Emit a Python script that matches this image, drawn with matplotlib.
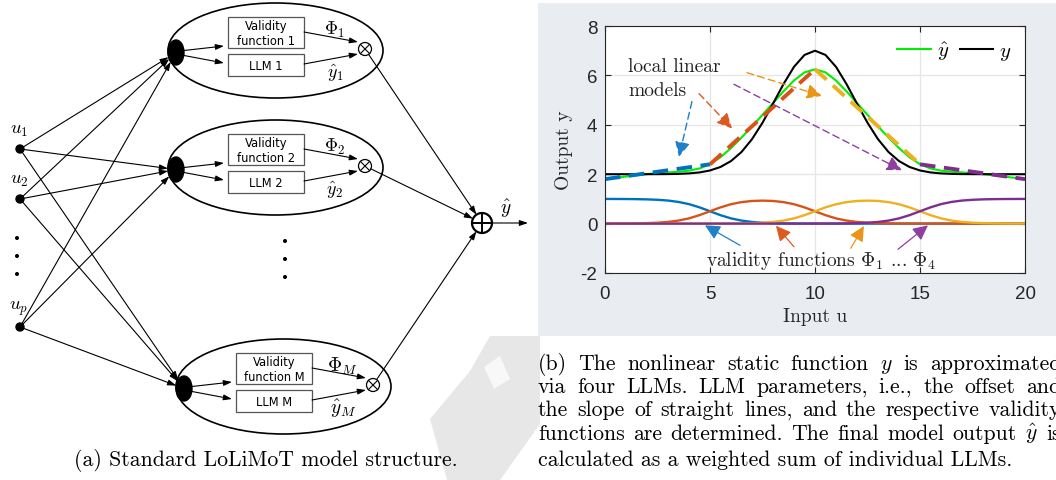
import numpy as np
import matplotlib
matplotlib.use('Agg')
import matplotlib.pyplot as plt
from matplotlib import patches

plt.rcParams['mathtext.fontset'] = 'cm'
plt.rcParams['axes.unicode_minus'] = False
plt.rcParams['font.family'] = 'Liberation Sans'

# ---- values (u in steps of 0.5) ----
u = np.arange(0, 20.5, 0.5)
y_true = [2.000, 2.000, 2.000, 2.000, 2.001, 2.002, 2.005, 2.013, 2.032, 2.072,
          2.151, 2.293, 2.532, 2.899, 3.418, 4.083, 4.856, 5.649, 6.347, 6.828,
          7.000, 6.828, 6.347, 5.649, 4.856, 4.083, 3.418, 2.899, 2.532, 2.293,
          2.151, 2.072, 2.032, 2.013, 2.005, 2.002, 2.001, 2.000, 2.000, 2.000, 2.000]
y_hat = [1.796, 1.852, 1.906, 1.957, 2.003, 2.041, 2.072, 2.100, 2.143, 2.232,
         2.405, 2.687, 3.058, 3.484, 3.936, 4.403, 4.879, 5.356, 5.794, 6.122,
         6.245, 6.122, 5.794, 5.356, 4.879, 4.403, 3.936, 3.484, 3.058, 2.687,
         2.405, 2.232, 2.143, 2.100, 2.072, 2.041, 2.003, 1.957, 1.906, 1.852, 1.796]
phi1 = [0.999, 0.997, 0.995, 0.990, 0.981, 0.964, 0.933, 0.877, 0.788, 0.658,
        0.500, 0.341, 0.211, 0.122, 0.066, 0.035, 0.018, 0.009, 0.004, 0.002,
        0.001, 0, 0, 0, 0, 0, 0, 0, 0, 0,
        0, 0, 0, 0, 0, 0, 0, 0, 0, 0, 0]
phi2 = [0.001, 0.003, 0.005, 0.010, 0.019, 0.036, 0.068, 0.123, 0.212, 0.342,
        0.500, 0.657, 0.785, 0.870, 0.916, 0.930, 0.916, 0.870, 0.785, 0.657,
        0.499, 0.341, 0.211, 0.122, 0.066, 0.035, 0.018, 0.009, 0.004, 0.002,
        0.001, 0, 0, 0, 0, 0, 0, 0, 0, 0, 0]
phi3 = [0, 0, 0, 0, 0, 0, 0, 0, 0, 0,
        0.001, 0.002, 0.004, 0.009, 0.018, 0.035, 0.066, 0.122, 0.211, 0.341,
        0.499, 0.657, 0.785, 0.870, 0.916, 0.930, 0.916, 0.870, 0.785, 0.657,
        0.500, 0.342, 0.212, 0.123, 0.068, 0.036, 0.019, 0.010, 0.005, 0.003, 0.001]
phi4 = [0, 0, 0, 0, 0, 0, 0, 0, 0, 0,
        0, 0, 0, 0, 0, 0, 0, 0, 0, 0,
        0.001, 0.002, 0.004, 0.009, 0.018, 0.035, 0.066, 0.122, 0.211, 0.341,
        0.500, 0.658, 0.788, 0.877, 0.933, 0.964, 0.981, 0.990, 0.995, 0.997, 0.999]
llm_u = [[0, 5], [5, 10], [10, 15], [15, 20]]
llm_y = [[1.8, 2.4], [2.4, 6.25], [6.25, 2.4], [2.4, 1.8]]
xticks = [0, 5, 10, 15, 20]
yticks = [-2, 0, 2, 4, 6, 8]

module_names = ['1', '2', 'M']
caption_a = '(a) Standard LoLiMoT model structure.'
caption_b = ['(b) The nonlinear static function $y$ is approximated',
             'via four LLMs.  LLM parameters, i.e., the offset and',
             'the slope of straight lines, and the respective validity',
             'functions are determined. The final model output $\\hat{y}$ is',
             'calculated as a weighted sum of individual LLMs.']

cols = ['#0072BD', '#D95319', '#EDB120', '#7E2F8E']
arr_cols = ['#1f7fc8', '#dd5a1e', '#ea9418', '#8e3fa0']

fig = plt.figure(figsize=(10.56, 4.81), dpi=100)
ax0 = fig.add_axes([0, 0, 1, 1])
ax0.set_xlim(0, 1056)
ax0.set_ylim(481, 0)
ax0.axis('off')

# faint watermark + grey panel behind the plot
ax0.add_patch(patches.Polygon([(490, 337), (540, 337), (540, 425), (500, 481), (447, 481),
                               (430, 420), (470, 372)], color='#e7e7e7', lw=0, zorder=1))
ax0.add_patch(patches.Polygon([(484, 368), (500, 357), (510, 380), (494, 390)],
                              color='#f8f8f8', lw=0, zorder=1))
ax0.add_patch(patches.Rectangle((538, 4), 520, 333, color='#e9ecf1', lw=0, zorder=2))


def arr(p, q, lw=0.8, ms=10):
    ax0.annotate('', xy=q, xytext=p, zorder=4,
                 arrowprops=dict(arrowstyle='-|>,head_length=0.5,head_width=0.17', lw=lw,
                                 color='k', shrinkA=0, shrinkB=0, mutation_scale=ms))


def on_ell(c, a, b, p):
    ang = np.arctan2((p[1] - c[1]) / b, (p[0] - c[0]) / a)
    return (c[0] + a * np.cos(ang), c[1] + b * np.sin(ang))


inputs = [(20, 150), (20, 200), (20, 328)]
in_labels = ['$u_1$', '$u_2$', '$u_p$']
anchors = [(168, 4), (168, 121), (176, 340)]
s_c = (482, 224)
s_r = 10

for (x0, y0), nm in zip(anchors, module_names):
    ax0.add_patch(patches.Ellipse((x0 + 107.5, y0 + 47.5), 215, 95, fill=False, lw=1.2, zorder=3))
    bc = (x0 + 8, y0 + 49.5)
    ax0.add_patch(patches.Ellipse(bc, 16, 25, color='k', zorder=3))
    ax0.add_patch(patches.Rectangle((x0 + 60, y0 + 14), 76, 31, fill=False, ec='#555555', lw=0.9, zorder=3))
    ax0.add_patch(patches.Rectangle((x0 + 60, y0 + 51), 76, 22, fill=False, ec='#555555', lw=0.9, zorder=3))
    ax0.text(x0 + 98, y0 + 30, 'Validity\nfunction ' + nm, ha='center', va='center', fontsize=8.3,
             family='DejaVu Sans', linespacing=1.15, zorder=4)
    ax0.text(x0 + 98, y0 + 62.5, 'LLM ' + nm, ha='center', va='center', fontsize=8.3,
             family='DejaVu Sans', zorder=4)
    arr((bc[0] + 8, bc[1] - 2), (x0 + 56, y0 + 43))
    arr((bc[0] + 8, bc[1] + 3), (x0 + 56, y0 + 60))
    mc = (x0 + 197, y0 + 46)
    r = 6.5
    ax0.add_patch(patches.Circle(mc, r, fill=False, lw=0.9, zorder=3))
    d = r * 0.7071
    ax0.plot([mc[0] - d, mc[0] + d], [mc[1] - d, mc[1] + d], 'k', lw=0.8, zorder=3)
    ax0.plot([mc[0] - d, mc[0] + d], [mc[1] + d, mc[1] - d], 'k', lw=0.8, zorder=3)
    arr((x0 + 136, y0 + 29), (mc[0] - 7, mc[1] - 7))
    arr((x0 + 136, y0 + 61), (mc[0] - 7, mc[1] + 5))
    fsz = 14 if nm == 'M' else 13
    ax0.text(x0 + 167, y0 + 26, '$\\Phi_{%s}$' % nm, ha='center', va='center', fontsize=fsz, zorder=4)
    ax0.text(x0 + 167, y0 + 69, '$\\hat{y}_{%s}$' % nm, ha='center', va='center', fontsize=fsz, zorder=4)
    for p in inputs:
        arr(p, on_ell(bc, 8, 12.5, p))
    arr(on_ell(mc, r, r, s_c), on_ell(s_c, s_r, s_r, mc))

for p, lab in zip(inputs, in_labels):
    ax0.add_patch(patches.Circle(p, 4, color='k', zorder=4))
    ax0.text(p[0] - 1, p[1] - 19, lab, ha='center', va='center', fontsize=13.5, zorder=4)
for yy in [239, 257, 275]:
    ax0.add_patch(patches.Circle((17, yy), 1.3, color='k', zorder=4))
for yy in [242, 260, 278]:
    ax0.add_patch(patches.Circle((285, yy), 1.3, color='k', zorder=4))

ax0.add_patch(patches.Circle(s_c, s_r, fill=False, lw=1.6, zorder=3))
ax0.plot([s_c[0] - s_r, s_c[0] + s_r], [s_c[1], s_c[1]], 'k', lw=1.4, zorder=3)
ax0.plot([s_c[0], s_c[0]], [s_c[1] - s_r, s_c[1] + s_r], 'k', lw=1.4, zorder=3)
arr((s_c[0] + s_r, s_c[1]), (528, s_c[1]))
ax0.text(506, 209, '$\\hat{y}$', ha='center', va='center', fontsize=14, zorder=4)

# ---- right chart ----
ax = fig.add_axes([605 / 1056, 207 / 481, 420 / 1056, 247 / 481])
ax.set_xlim(0, 20)
ax.set_ylim(-2, 8)
ax.set_xticks(xticks)
ax.set_yticks(yticks)
ax.grid(True, color='#e6e6e6', lw=0.9)
ax.set_axisbelow(True)
for ph, c in zip([phi1, phi2, phi3, phi4], cols):
    ax.plot(u, ph, color=c, lw=1.7)
l_hat, = ax.plot(u, y_hat, color='#00ee00', lw=1.5)
l_true, = ax.plot(u, y_true, color='k', lw=1.5)
for xs, ys, c in zip(llm_u, llm_y, cols):
    ax.plot(xs, ys, color=c, lw=2.8, dashes=(4, 2.2))

dashed_arrows = [((4.14, 4.94), (3.52, 2.70)), ((4.48, 5.26), (6.05, 3.85)),
                 ((6.76, 6.11), (10.33, 5.17)), ((6.14, 5.64), (14.14, 2.16))]
for (p, q), c in zip(dashed_arrows, arr_cols):
    ax.annotate('', xy=q, xytext=p,
                arrowprops=dict(arrowstyle='-|>,head_length=0.65,head_width=0.32', lw=1.0,
                                linestyle=(0, (5, 3)), color=c, shrinkA=0, shrinkB=0,
                                mutation_scale=14))
solid_arrows = [((6.43, -0.88), (4.76, -0.07)), ((9.0, -0.94), (8.14, -0.09)),
                ((11.7, -1.0), (12.33, -0.1)), ((13.95, -1.04), (15.38, -0.07))]
for (p, q), c in zip(solid_arrows, arr_cols):
    ax.annotate('', xy=q, xytext=p,
                arrowprops=dict(arrowstyle='-|>,head_length=0.65,head_width=0.32', lw=0.9,
                                color=c, shrinkA=0, shrinkB=0, mutation_scale=14))

ax.text(1.1, 6.17, 'local linear', family='cmr10', fontsize=14, va='baseline', color='#222222')
ax.text(1.1, 5.20, 'models', family='cmr10', fontsize=14, va='baseline', color='#222222')
ax.text(4.8, -1.69, 'validity functions $\\Phi_1$ ... $\\Phi_4$', family='cmr10', fontsize=14,
        va='baseline', color='#222222')

ax.legend([l_hat, l_true], ['$\\hat{y}$', '$y$'], loc='upper right', ncol=2, frameon=False,
          fontsize=15, handlelength=1.6, handletextpad=0.3, columnspacing=0.5,
          borderaxespad=0.25)

ax.tick_params(direction='in', top=True, right=True, length=4, width=0.8, colors='#262626',
               labelsize=13.5)
ax.tick_params(axis='x', pad=9)
ax.tick_params(axis='y', pad=5.5)
for s in ax.spines.values():
    s.set_color('#262626')
    s.set_linewidth(0.8)
ax.text(-0.097, 0.5, 'Output y', transform=ax.transAxes, rotation=90, ha='center', va='center',
        family='cmr10', fontsize=14, color='#262626')
ax.text(0.5, -0.175, 'Input u', transform=ax.transAxes, ha='center', va='center',
        family='cmr10', fontsize=14, color='#262626')

# ---- captions ----
fig.canvas.draw()
rend = fig.canvas.get_renderer()


def wid(s, fs):
    t = ax0.text(0, 0, s, fontsize=fs, family='cmr10')
    w = t.get_window_extent(rend).width
    t.remove()
    return w


fs = 13 * 475 / wid(caption_b[-1], 13)
ax0.text(266, 466, caption_a, ha='center', va='baseline', fontsize=fs, family='cmr10', zorder=4)
base = [370, 393, 416, 440, 466]
for k, line in enumerate(caption_b):
    if k == len(caption_b) - 1:
        ax0.text(538, base[k], line, va='baseline', fontsize=fs, family='cmr10', zorder=4)
        continue
    words = line.split()
    ws = [wid(w, fs) for w in words]
    gap = (1061 - 538 - sum(ws)) / (len(words) - 1)
    x = 538
    for w, ww in zip(words, ws):
        ax0.text(x, base[k], w, va='baseline', fontsize=fs, family='cmr10', zorder=4)
        x += ww + gap

fig.savefig('out.png', dpi=100)
